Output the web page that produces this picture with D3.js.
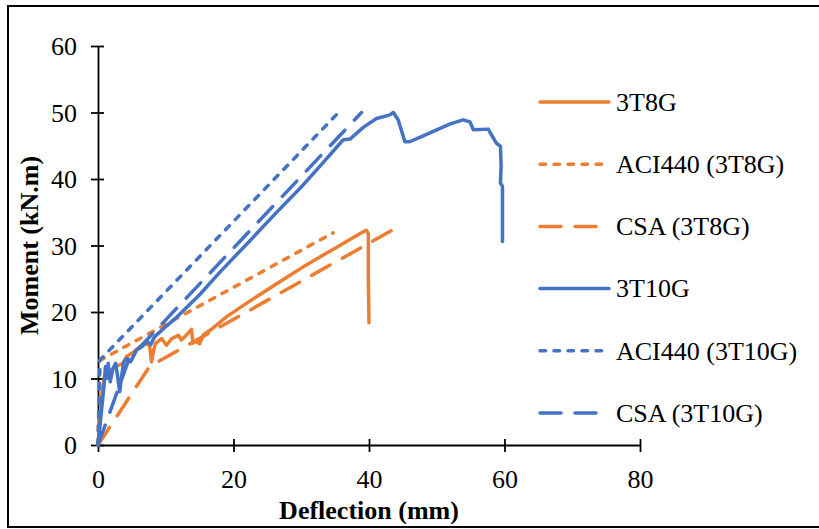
<!DOCTYPE html>
<html>
<head>
<meta charset="utf-8">
<script src="https://cdn.jsdelivr.net/npm/d3@7"></script>
<style>
  body { margin: 0; background: #fff; }
  svg { display: block; }
  text { font-family: "Liberation Serif", "Times New Roman", serif; fill: #000; }
</style>
</head>
<body>
<svg id="chart" width="819" height="529"></svg>
<script>
// Moment–deflection data, [deflection (mm), moment (kN.m)]
const xTicks = [0, 20, 40, 60, 80];
const yTicks = [0, 10, 20, 30, 40, 50, 60];
const seriesNames = ["3T8G", "ACI440 (3T8G)", "CSA (3T8G)", "3T10G", "ACI440 (3T10G)", "CSA (3T10G)"];

const test3T8G = [
  [0, 0], [0.3, 4], [0.6, 8], [1, 10.5], [1.5, 11], [2, 11.3], [2.7, 11.8], [3.7, 12.3],
  [4.2, 13.3], [5, 13.8], [6.2, 14.8], [7, 15.2], [7.6, 15], [7.9, 12.5], [8.2, 14.2],
  [8.5, 15.3], [9.4, 16], [10.1, 15], [10.9, 16], [11.9, 16.5], [12.3, 15.8], [13.2, 16.7],
  [13.8, 17.4], [14, 15.3], [14.5, 15.6], [15, 15.2], [15.5, 16.5], [17, 17.6], [19, 19.3],
  [21.9, 21.3], [25.4, 23.6], [28, 25.3], [30, 26.6], [33.3, 28.6], [35, 29.6], [37, 30.8],
  [38.5, 31.7], [39.6, 32.3], [39.9, 31.8], [39.9, 25], [40, 18.4]
];
const aci3T8G = [[0, 0], [0.25, 12.7], [34.7, 31.9]];
const csa3T8G = [[0, 0], [7.6, 11.8], [43.6, 32.4]];

const test3T10G = [
  [0, 0], [0.3, 3], [0.6, 6], [0.9, 9], [1.1, 11.8], [1.3, 10], [1.5, 12.3], [1.8, 9.5],
  [2.2, 11.5], [2.6, 12.3], [2.8, 11], [3.2, 8], [3.5, 10.5], [3.8, 12.5], [4.3, 13],
  [4.8, 12.5], [5.7, 14.3], [6.5, 14.8], [7.2, 15.6], [7.8, 15.1], [8.3, 16.2], [8.7, 16.6],
  [10, 17.8], [11.6, 19.2], [15, 22.6], [18, 26], [22.5, 30.8], [26, 34.6], [30, 38.8],
  [33, 42.2], [36.2, 45.9], [37.2, 46], [39.2, 47.8], [41.1, 49.1], [43, 49.6], [43.6, 50],
  [44.3, 48.9], [45.3, 45.6], [46, 45.6], [48, 46.5], [52, 48.3], [53.9, 48.9], [54.9, 48.6],
  [55.4, 47.4], [57.6, 47.5], [58.1, 46.6], [58.8, 45.4], [59.4, 44.9], [59.5, 42],
  [59.4, 39.4], [59.7, 38.9], [59.7, 30.6]
];
const aci3T10G = [[0, 0], [0.3, 12.8], [35.5, 50]];
const csa3T10G = [[0, 0], [4.6, 13], [38.9, 50]];

const seriesData = [test3T8G, aci3T8G, csa3T8G, test3T10G, aci3T10G, csa3T10G];

const orange = "#ED7D31", blue = "#4472C4";
const styles = [
  { color: orange, dash: null },
  { color: orange, dash: "5.5,8.5" },
  { color: orange, dash: "21,14" },
  { color: blue, dash: null },
  { color: blue, dash: "5.5,8.5" },
  { color: blue, dash: "21,14" }
];

const svg = d3.select("#chart");

// outer frame
svg.append("rect")
  .attr("x", 8).attr("y", 6).attr("width", 830).attr("height", 521)
  .attr("fill", "none").attr("stroke", "#000").attr("stroke-width", 2);

const x = d3.scaleLinear().domain([0, 80]).range([98, 640]);
const y = d3.scaleLinear().domain([0, 60]).range([445, 46]);

const fontSize = 26;

// y axis
const yAxis = svg.append("g")
  .attr("transform", `translate(${x(0)},0)`)
  .call(d3.axisLeft(y).tickValues(yTicks).tickSize(6).tickSizeOuter(0));
yAxis.select(".domain").attr("stroke-width", 1.8);
yAxis.selectAll(".tick line").attr("x1", 6).attr("x2", -7).attr("stroke-width", 1.8);
yAxis.selectAll(".tick text")
  .attr("x", -21).attr("dy", "0.34em")
  .style("font-family", "'Liberation Serif', 'Times New Roman', serif")
  .style("font-size", fontSize + "px");

// x axis
const xAxis = svg.append("g")
  .attr("transform", `translate(0,${y(0)})`)
  .call(d3.axisBottom(x).tickValues(xTicks).tickSize(6).tickSizeOuter(0));
xAxis.select(".domain").attr("stroke-width", 1.8);
xAxis.selectAll(".tick line").attr("y1", -6).attr("y2", 7).attr("stroke-width", 1.8);
xAxis.selectAll(".tick text")
  .attr("y", 43).attr("dy", 0)
  .style("font-family", "'Liberation Serif', 'Times New Roman', serif")
  .style("font-size", fontSize + "px");

// axis titles
svg.append("text")
  .attr("x", (x(0) + x(80)) / 2).attr("y", 519)
  .attr("text-anchor", "middle")
  .style("font-size", fontSize + "px").style("font-weight", "bold")
  .text("Deflection (mm)");

svg.append("text")
  .attr("transform", `translate(38,${(y(0) + y(60)) / 2}) rotate(-90)`)
  .attr("text-anchor", "middle")
  .style("font-size", fontSize + "px").style("font-weight", "bold")
  .text("Moment (kN.m)");

// curves
const line = d3.line().x(d => x(d[0])).y(d => y(d[1]));
seriesData.forEach((data, i) => {
  svg.append("path")
    .datum(data)
    .attr("d", line)
    .attr("fill", "none")
    .attr("stroke", styles[i].color)
    .attr("stroke-width", 3.5)
    .attr("stroke-linejoin", "round")
    .attr("stroke-linecap", "round")
    .attr("stroke-dasharray", styles[i].dash);
});

// legend
const legend = svg.append("g");
seriesNames.forEach((name, i) => {
  const ly = 102 + i * 62.2;
  legend.append("line")
    .attr("x1", 540).attr("x2", 609).attr("y1", ly).attr("y2", ly)
    .attr("stroke", styles[i].color).attr("stroke-width", 3.5)
    .attr("stroke-linecap", "round")
    .attr("stroke-dasharray", styles[i].dash);
  legend.append("text")
    .attr("x", 616).attr("y", ly).attr("dy", "0.34em")
    .style("font-size", fontSize + "px")
    .text(name);
});
</script>
</body>
</html>
